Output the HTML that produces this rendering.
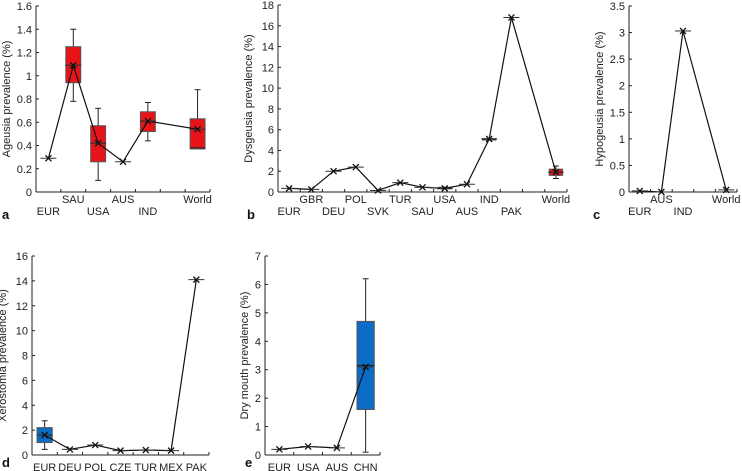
<!DOCTYPE html>
<html><head><meta charset="utf-8"><style>
html,body{margin:0;padding:0;background:#fff;}
svg{display:block;font-family:"Liberation Sans",sans-serif;}
</style></head><body>
<svg id="chart" width="742" height="471" viewBox="0 0 742 471" xmlns="http://www.w3.org/2000/svg"></svg>
<script>
// Panel a: Ageusia
const catsA = ["EUR","SAU","USA","AUS","IND","","World"];
const valsA = [0.29,1.09,0.42,0.26,0.61,null,0.54];
const boxA = [null,[0.78,0.94,1.09,1.25,1.40],[0.10,0.26,0.42,0.57,0.72],null,[0.44,0.52,0.61,0.69,0.77],null,[0.37,0.37,0.38,0.63,0.88]];
const ticksA = [0,0.2,0.4,0.6,0.8,1,1.2,1.4,1.6];
// Panel b: Dysgeusia
const catsB = ["EUR","GBR","DEU","POL","SVK","TUR","SAU","USA","AUS","IND","PAK","","World"];
const valsB = [0.35,0.25,2.0,2.4,0.15,0.9,0.45,0.35,0.75,5.1,16.8,null,1.9];
const boxB = [null,null,null,null,null,null,null,[0.3,0.3,0.35,0.45,0.45],null,[5.0,5.0,5.1,5.15,5.15],null,null,[1.3,1.6,1.9,2.2,2.5]];
const ticksB = [0,2,4,6,8,10,12,14,16,18];
// Panel c: Hypogeusia
const catsC = ["EUR","AUS","IND","","World"];
const valsC = [0.02,0.0,3.03,null,0.04];
const ticksC = [0,0.5,1,1.5,2,2.5,3,3.5];
// Panel d: Xerostomia
const catsD = ["EUR","DEU","POL","CZE","TUR","MEX","PAK"];
const valsD = [1.6,0.45,0.8,0.35,0.4,0.35,14.1];
const boxD = [[0.45,1.0,1.6,2.2,2.75],null,null,null,null,null,null];
const ticksD = [0,2,4,6,8,10,12,14,16];
// Panel e: Dry mouth
const catsE = ["EUR","USA","AUS","CHN"];
const valsE = [0.2,0.3,0.25,3.1];
const boxE = [null,null,null,[0.1,1.6,3.15,4.7,6.2]];
const ticksE = [0,1,2,3,4,5,6,7];

const svg = document.getElementById('chart');
const NS = "http://www.w3.org/2000/svg";
function mk(tag, attrs, parent){
  const e = document.createElementNS(NS, tag);
  for (const k in attrs) e.setAttribute(k, attrs[k]);
  (parent||svg).appendChild(e);
  return e;
}
function panel(cfg){
  const g = mk('g', {});
  
  
  const {x0,x1,y0,y1,max,cats,vals,boxes,ticks,color,title,letter,stagger} = cfg;
  const n = cats.length, sw = (x1-x0)/n;
  const X = i => x0 + sw*(i+0.5);
  const Y = v => y0 - (v/max)*(y0-y1);
  const ya = mk('line',{x1:x0,y1:y1,x2:x0,y2:y0,stroke:'#222','stroke-width':1},g);
   
  const xa = mk('line',{x1:x0,y1:y0,x2:x1,y2:y0,stroke:'#222','stroke-width':1},g);
   
  ticks.forEach(t=>{
    mk('line',{x1:x0,y1:Y(t),x2:x0+3,y2:Y(t),stroke:'#222'},g);
    const tl = mk('text',{x:x0-4,y:Y(t)+4,'text-anchor':'end','font-size':11,fill:'#222'},g);
    tl.textContent = t;
     
  });
  for(let i=1;i<=n;i++){ const tx=x0+sw*i; mk('line',{x1:tx,y1:y0,x2:tx,y2:y0-3,stroke:'#222'},g); }
  let k=0;
  cats.forEach((c,i)=>{
    if(!c) return;
    const ty = stagger ? (k%2===0 ? y0+23 : y0+11) : y0+16;
    k++;
    const tl = mk('text',{x:X(i),y:ty,'text-anchor':'middle','font-size':11,fill:'#222'},g);
    tl.textContent = c;
     
  });
  if(boxes) boxes.forEach((b,i)=>{
    if(!b) return;
    const bw = sw*0.6, cx = X(i);
    mk('line',{x1:cx,y1:Y(b[0]),x2:cx,y2:Y(b[4]),stroke:'#222'},g);
    mk('line',{x1:cx-3,y1:Y(b[0]),x2:cx+3,y2:Y(b[0]),stroke:'#222'},g);
    mk('line',{x1:cx-3,y1:Y(b[4]),x2:cx+3,y2:Y(b[4]),stroke:'#222'},g);
    const r = mk('rect',{x:cx-bw/2,y:Y(b[3]),width:bw,height:Math.max(1,Y(b[1])-Y(b[3])),fill:color,stroke:'#555','stroke-width':1},g);
     
    mk('line',{x1:cx-bw/2,y1:Y(b[2]),x2:cx+bw/2,y2:Y(b[2]),stroke:'#222'},g);
  });
  const pts = [];
  vals.forEach((v,i)=>{ if(v!==null) pts.push(X(i)+','+Y(v)); });
  const pl = mk('polyline',{points:pts.join(' '),fill:'none',stroke:'#111','stroke-width':1.2},g);
   
  vals.forEach((v,i)=>{
    if(v===null) return;
    const cx=X(i), cy=Y(v);
    mk('line',{x1:cx-8,y1:cy,x2:cx+8,y2:cy,stroke:'#333','stroke-width':1},g);
    const m = mk('path',{d:`M${cx-3},${cy-3}L${cx+3},${cy+3}M${cx-3},${cy+3}L${cx+3},${cy-3}`,stroke:'#111','stroke-width':1.3},g);
     
  });
  const tt = mk('text',{transform:`translate(${x0-(cfg.titleOff||26)},${(y0+y1)/2}) rotate(-90)`,'text-anchor':'middle','font-size':11,fill:'#222'},g);
  tt.textContent = title;
   
  const lt = mk('text',{x:letter[0],y:letter[1],'font-size':13,'font-weight':'bold',fill:'#111'},g);
  lt.textContent = cfg.letterText;
   
}
panel({name:'panel-a-ageusia',x0:36,x1:210,y0:192,y1:6,max:1.6,cats:catsA,vals:valsA,boxes:boxA,ticks:ticksA,color:'#e8141a',title:'Ageusia prevalence (%)',letter:[2,219],letterText:'a',stagger:true});
panel({name:'panel-b-dysgeusia',x0:278,x1:567,y0:192,y1:5,max:18,cats:catsB,vals:valsB,boxes:boxB,ticks:ticksB,color:'#e8141a',title:'Dysgeusia prevalence (%)',letter:[247,219],letterText:'b',stagger:true});
panel({name:'panel-c-hypogeusia',x0:629,x1:737,y0:192,y1:6,max:3.5,cats:catsC,vals:valsC,boxes:null,ticks:ticksC,color:'#e8141a',title:'Hypogeusia prevalence (%)',letter:[593,219],letterText:'c',stagger:true});
panel({name:'panel-d-xerostomia',x0:32,x1:209,y0:455,y1:256,max:16,cats:catsD,vals:valsD,boxes:boxD,ticks:ticksD,color:'#0a6cc4',title:'Xerostomia prevalence (%)',letter:[2,467],letterText:'d',stagger:false});
panel({name:'panel-e-dry-mouth',x0:265,x1:380,y0:455,y1:256,max:7,cats:catsE,vals:valsE,boxes:boxE,ticks:ticksE,color:'#0a6cc4',title:'Dry mouth prevalence (%)',titleOff:17,letter:[245,467],letterText:'e',stagger:false});
</script>
</body></html>
